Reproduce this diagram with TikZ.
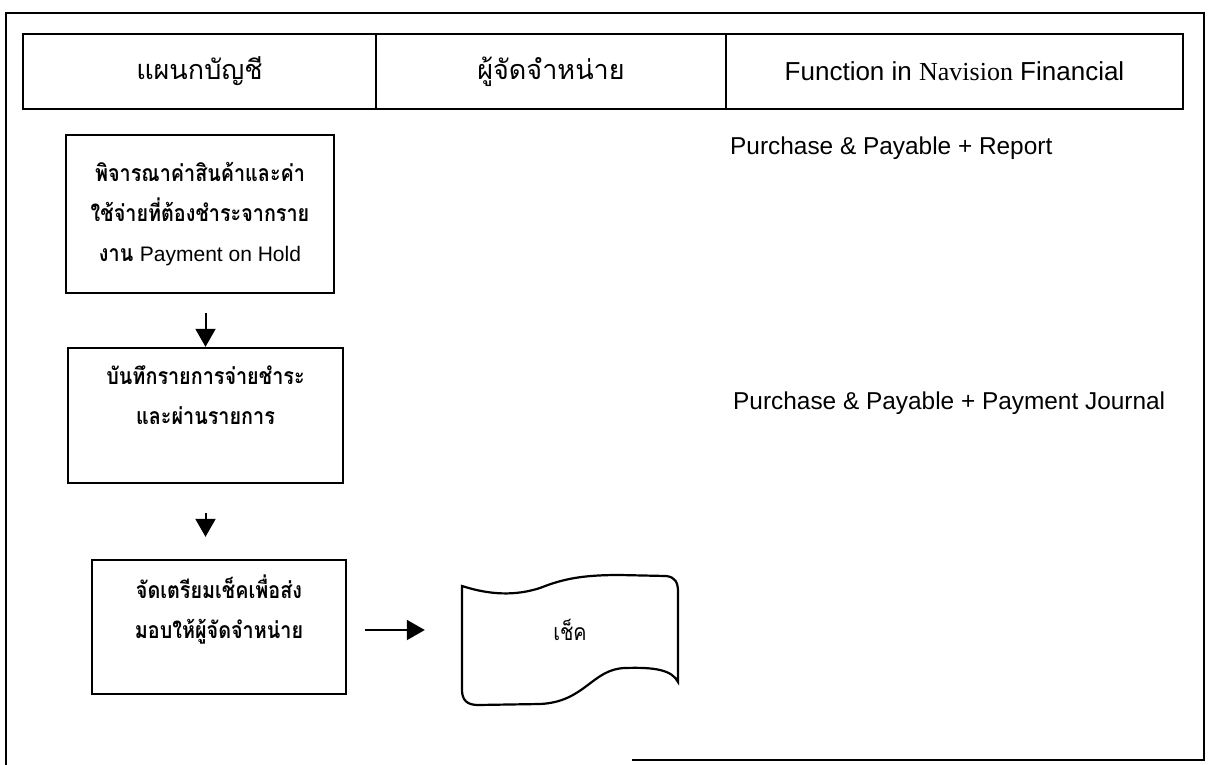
\documentclass[tikz,border=0pt]{standalone}
\usepackage{fontspec}
\setmainfont{Liberation Sans}
\newfontfamily\thai[Script=Thai,FakeStretch=0.86]{Loma}
\newfontfamily\thaihead[Script=Thai]{Loma}
\newfontfamily\tms{Liberation Serif}
\usetikzlibrary{arrows.meta}
\begin{document}
\begin{tikzpicture}[x=1pt,y=-1pt,
  frame/.style={line width=1.8pt},
  cell/.style={draw, line width=2pt, minimum height=75pt, inner sep=0pt, anchor=north west,
    font=\fontsize{26}{30}\selectfont},
  box/.style={draw, line width=2.4pt, align=center, inner sep=0pt,
    font=\thai\bfseries\fontsize{23}{40}\selectfont},
  lbl/.style={anchor=west, inner sep=0pt, font=\fontsize{24.4}{28}\selectfont},
  arr/.style={line width=2pt, -{Triangle[length=18pt,width=20pt]}}]
\useasboundingbox (0,0) rectangle (1215,765);
% outer frame
\draw[frame] (6,765) -- (6,13) -- (1204,13) -- (1204,760) -- (632,760);
% header
\node[cell, minimum width=353pt] (h1) at (22,33) {\thaihead\fontsize{27}{30}\selectfont แผนกบัญชี};
\node[cell, minimum width=350pt] (h2) at (375,33) {\thaihead\fontsize{27}{30}\selectfont ผู้จัดจำหน่าย};
\node[cell, minimum width=457pt] (h3) at (725,33) {Function in {\tms Navision} Financial};
% right column labels
\node[lbl] (t1) at (730,148) {Purchase \& Payable + Report};
\node[lbl] (t2) at (733,403) {Purchase \& Payable + Payment Journal};
% process boxes
\node[box, minimum width=268pt, minimum height=158pt] (b1) at (200,214)
  {พิจารณาค่าสินค้าและค่า\\ใช้จ่ายที่ต้องชำระจากราย\\งาน {\rmfamily\mdseries\fontsize{21}{40}\selectfont Payment on Hold}};
\node[box, minimum width=275pt, minimum height=135pt] (b2) at (205.5,415.5)
  {บันทึกรายการจ่ายชำระ\\และผ่านรายการ\\\mbox{}};
\node[box, minimum width=254pt, minimum height=134pt] (b3) at (219,627)
  {จัดเตรียมเช็คเพื่อส่ง\\มอบให้ผู้จัดจำหน่าย\\\mbox{}};
% document (cheque)
\node[minimum width=216pt, minimum height=120pt, inner sep=0pt, font=\thai\fontsize{23}{28}\selectfont] (doc) at (570,630) {เช็ค};
\draw[line width=2.2pt] (462,586) .. controls (490,595) and (515,596) .. (540,588)
  .. controls (565,578) and (585,575) .. (620,575) -- (666,576)
  .. controls (675,577) and (678,582) .. (678,592) -- (678,682)
  .. controls (672,670) and (655,667) .. (625,668)
  .. controls (592,669) and (585,702) .. (540,704) -- (478,705)
  .. controls (467,705) and (462,700) .. (462,690) -- cycle;
% arrows
\draw[arr, shorten <=19pt] (b2.north |- b1.south) -- (b2.north);
\draw[arr, shorten <=29pt, shorten >=22pt] (b2.south) -- (b2.south |- b3.north);
\draw[arr, shorten <=18pt, shorten >=37pt] (b3.east |- doc.west) -- (doc.west);
\end{tikzpicture}
\end{document}
